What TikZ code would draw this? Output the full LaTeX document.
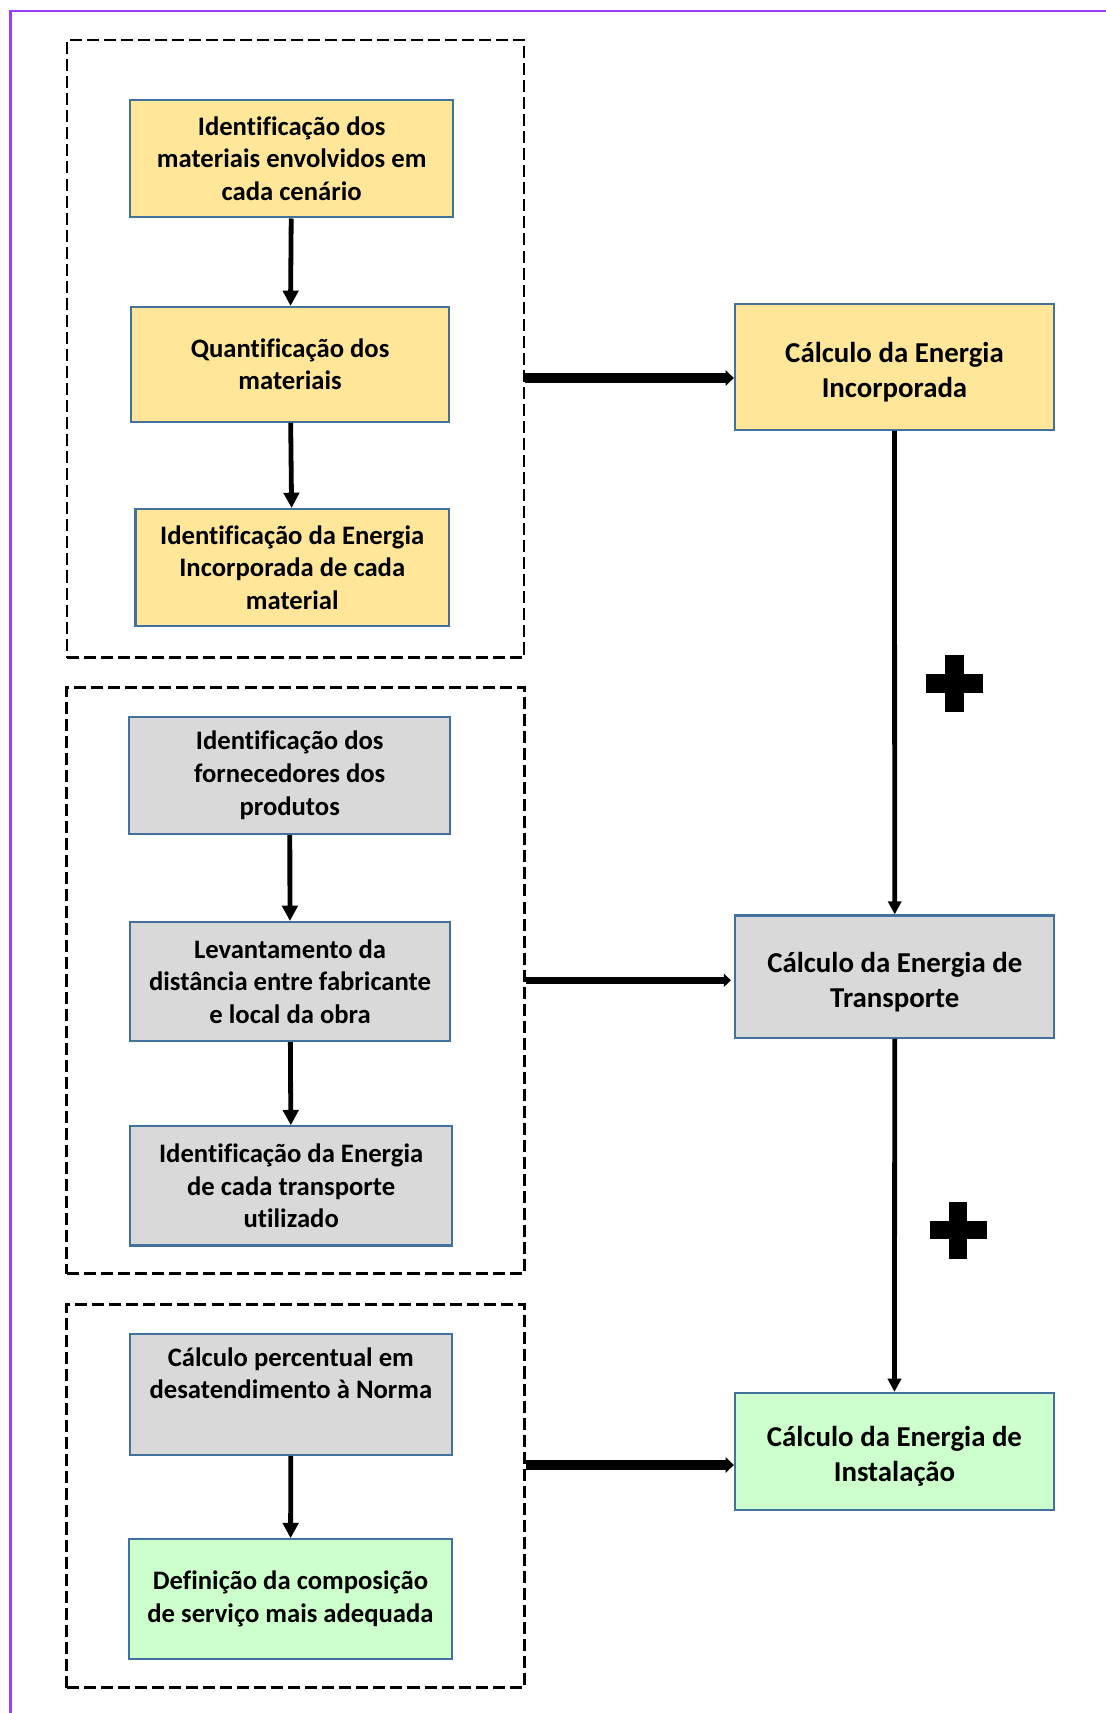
\documentclass[tikz,border=0pt]{standalone}
\usepackage{fontspec}
\setmainfont{Carlito}[Ligatures=NoCommon]
\usetikzlibrary{arrows.meta}
\definecolor{boxblue}{HTML}{41719C}
\definecolor{fillyellow}{HTML}{FFE699}
\definecolor{fillgray}{HTML}{D9D9D9}
\definecolor{fillgreen}{HTML}{CCFFCC}
\definecolor{framepurple}{HTML}{9B3DFF}
\begin{document}
\begin{tikzpicture}[x=0.5pt,y=-0.5pt,
  box/.style={draw=boxblue, line width=1pt, inner sep=0pt, align=center,
    font=\bfseries\fontsize{12.2}{15}\selectfont},
  bigbox/.style={box, font=\bfseries\fontsize{13.2}{16}\selectfont},
  dims/.style 2 args={minimum width=#1*0.5pt, minimum height=#2*0.5pt},
  group/.style={draw, line width=1.3pt, dash pattern=on 5.5pt off 2.3pt, inner sep=0pt},
  yel/.style={fill=fillyellow},
  gry/.style={fill=fillgray},
  grn/.style={fill=fillgreen},
  inarrow/.style={line width=2.2pt, -{Triangle[length=7pt,width=7pt]}},
  sidearrow/.style={line width=4.2pt, -{Triangle[length=3.8pt,width=7pt]}},
  midarrow/.style={line width=3.4pt, -{Triangle[length=3.2pt,width=6pt]}},
  downarrow/.style={line width=2.2pt, -{Triangle[length=6pt,width=6pt]}},
  frame/.style={draw=framepurple, line width=1.1pt},
  plussign/.pic={\fill (-26,-8.5) rectangle (26,8.5); \fill (-8.5,-26) rectangle (8.5,26);}
]
\useasboundingbox (0,0) rectangle (1012,1568);
\draw[frame] (9.7,1568) -- (9.7,10) -- (1012,10);

% dashed groups
\node[group, dims={418.3}{565.4}] (D1) at (270.45,319.3) {};
\node[group, dims={419}{537}] (D2) at (270.5,897.5) {};
\node[group, dims={419}{350.8}] (D3) at (270.5,1369.4) {};

% left boxes
\node[box, yel, dims={296}{107.5}] (A1) at (267,145.25) {Identificação dos\\materiais envolvidos em\\cada cenário};
\node[box, yel, dims={291}{105}] (A2) at (265.5,333.5) {Quantificação dos\\materiais};
\node[box, yel, dims={287}{107}] (A3) at (267.5,519.5) {Identificação da Energia\\Incorporada de cada\\material};
\node[box, gry, dims={293.6}{107.4}] (B1) at (265.2,709.7) {Identificação dos\\fornecedores dos\\produtos};
\node[box, gry, dims={293}{109}] (B2) at (265.5,898.5) {Levantamento da\\distância entre fabricante\\e local da obra};
\node[box, gry, dims={295}{109}] (B3) at (266.5,1085.5) {Identificação da Energia\\de cada transporte\\utilizado};
\node[box, gry, dims={295}{110.8}] (C1) at (266.25,1276.4) {Cálculo percentual em\\desatendimento à Norma\\\strut};
\node[box, grn, dims={295.7}{109.6}] (C2) at (265.9,1463.8) {Definição da composição\\de serviço mais adequada};

% right boxes
\node[bigbox, yel, dims={292}{115}] (R1) at (818.75,336) {\rule{0pt}{14pt}Cálculo da Energia\\Incorporada};
\node[bigbox, gry, dims={292}{112}] (R2) at (819,894) {\rule{0pt}{14pt}Cálculo da Energia de\\Transporte};
\node[bigbox, grn, dims={292}{107}] (R3) at (818.75,1328.5) {\rule{0pt}{14pt}Cálculo da Energia de\\Instalação};

% internal arrows
\draw[inarrow] (A1) -- (A2);
\draw[inarrow] (A2) -- (A3);
\draw[inarrow] (B1) -- (B2);
\draw[inarrow] (B2) -- (B3);
\draw[inarrow] (C1) -- (C2);

% group to result arrows
\coordinate (g1) at (D1.east |- 0,346);
\coordinate (g2) at (D2.east |- 0,897.3);
\coordinate (g3) at (D3.east |- 0,1341);
\draw[sidearrow] (g1) -- (g1 -| R1.west);
\draw[midarrow] (g2) -- ([xshift=-1.5pt]g2 -| R2.west);
\draw[sidearrow] (g3) -- (g3 -| R3.west);

% vertical connectors
\draw[downarrow] (R1.south) -- (R2.north);
\draw[downarrow] (R2.south) -- (R3.north);

% plus signs
\pic at (873.7,625.6) {plussign};
\pic at (877,1126) {plussign};
\end{tikzpicture}
\end{document}
